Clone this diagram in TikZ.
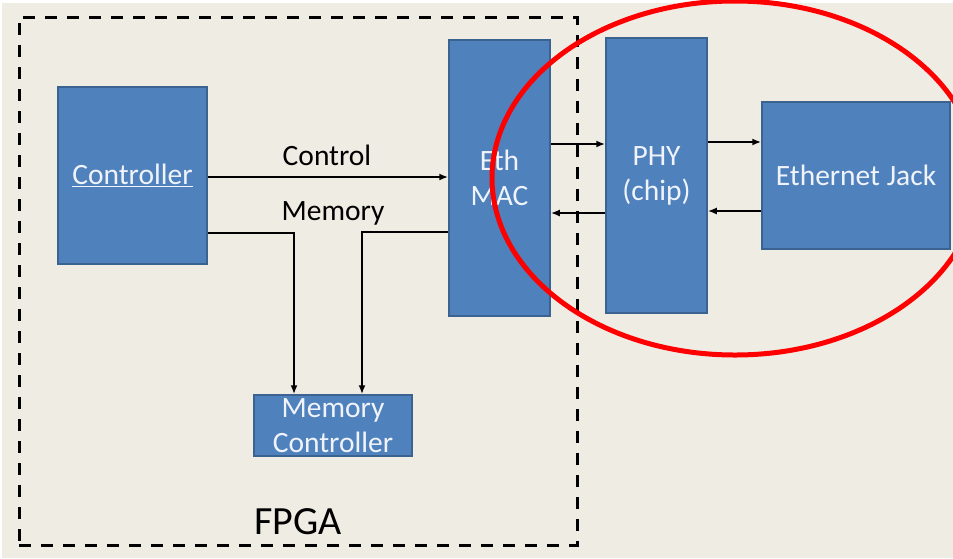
\documentclass[tikz,border=0pt]{standalone}
\usepackage{fontspec}
\setmainfont{Carlito}
\usepackage{xcolor}
\usepackage{tikz}
\usetikzlibrary{shapes, arrows.meta, positioning, calc}

\definecolor{slidebg}{RGB}{239,236,228}
\definecolor{boxblue}{RGB}{79,129,189}
\definecolor{boxedge}{RGB}{60,98,146}
\definecolor{boxtext}{RGB}{240,244,250}

\tikzset{
  block/.style={draw=boxedge, line width=1.5pt, rectangle, fill=boxblue, text=boxtext, align=center, inner sep=0pt, font=\fontsize{29.5}{35}\selectfont},
  link/.style={-{Latex[length=9pt,width=7pt]}, line width=2pt},
  lbl/.style={font=\fontsize{29.5}{35}\selectfont}
}

\begin{document}
\begin{tikzpicture}[x=1pt, y=-1pt]
\useasboundingbox (0,0) rectangle (953,558);
\fill[white] (0,0) rectangle (953,558);
\fill[slidebg] (2,3) rectangle (953,558);

% FPGA blocks
\node[block, minimum width=149pt, minimum height=177pt] (ctrl) at (132.5,175.5) {\underline{Controller}};
\node[block, minimum width=101pt, minimum height=276pt] (mac) at (499.5,178) {Eth\\MAC};
\node[block, minimum width=158pt, minimum height=61pt] (memctrl) at (333,425.5) {Memory\\Controller};

% outside the FPGA
\node[block, minimum width=101pt, minimum height=275pt] (phy) at (656.5,175.5) {PHY\\(chip)};
\node[block, minimum width=188pt, minimum height=147pt] (jack) at (856,175.5) {Ethernet Jack};

% connections
\draw[link] (ctrl.east |- 0,177) -- (mac.west |- 0,177);
\node[lbl] (ctrllbl) at (327,155) {Control};
\node[lbl] (memlbl) at (333,213) {Memory};
\draw[link] (ctrl.east |- 0,233) -| (memctrl.north -| 294,0);
\draw[link] (mac.west |- 0,232) -| (memctrl.north -| 362,0);

\draw[link] (mac.east |- 0,144) -- (phy.west |- 0,144);
\draw[link] (phy.west |- 0,213) -- (mac.east |- 0,213);
\draw[link] (phy.east |- 0,142) -- (jack.west |- 0,142);
\draw[link] (jack.west |- 0,211) -- (phy.east |- 0,211);

% FPGA boundary
\node[draw, dashed, line width=3pt, dash pattern=on 12pt off 10pt, rectangle, minimum width=558pt, minimum height=528pt, inner sep=0pt] (fpga) at (298,281) {};
\node[font=\fontsize{40}{48}\selectfont] (fpgalbl) at (298,522) {FPGA};

% highlight
\draw[red, line width=5pt] (735,178) ellipse [x radius=243, y radius=177];
\end{tikzpicture}
\end{document}
